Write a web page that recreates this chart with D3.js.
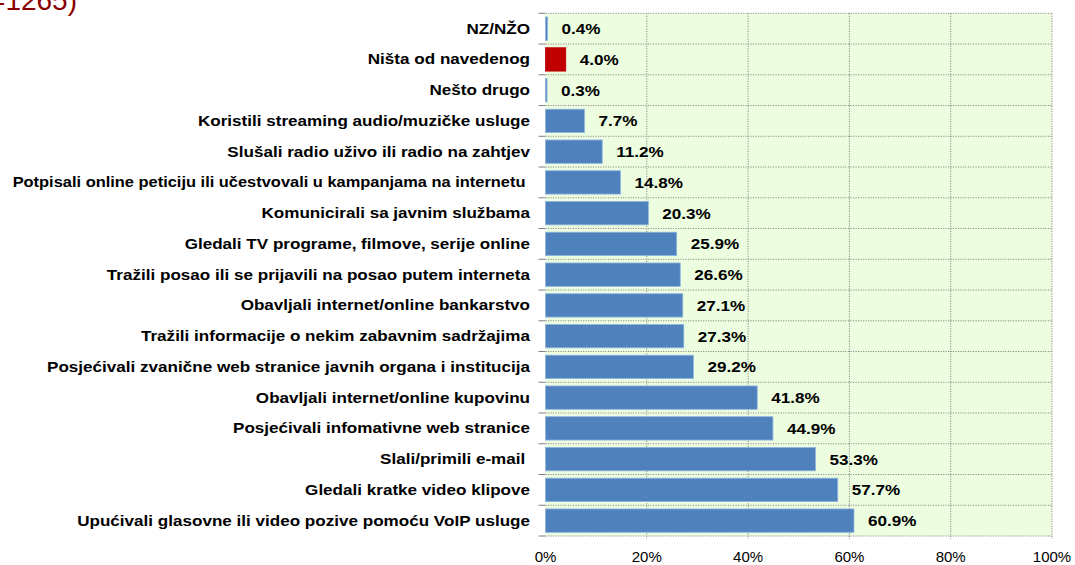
<!DOCTYPE html>
<html>
<head>
<meta charset="utf-8">
<script src="https://cdn.jsdelivr.net/npm/d3@7"></script>
<style>
  body { margin: 0; background: #fff; }
  svg text { font-family: Arial, "Liberation Sans", sans-serif; }
</style>
</head>
<body>
<div id="chart"></div>
<script>
// categories, top to bottom
var categories = [
  "NZ/NŽO",
  "Ništa od navedenog",
  "Nešto drugo",
  "Koristili streaming audio/muzičke usluge",
  "Slušali radio uživo ili radio na zahtjev",
  "Potpisali online peticiju ili učestvovali u kampanjama na internetu ",
  "Komunicirali sa javnim službama",
  "Gledali TV programe, filmove, serije online",
  "Tražili posao ili se prijavili na posao putem interneta",
  "Obavljali internet/online bankarstvo",
  "Tražili informacije o nekim zabavnim sadržajima",
  "Posjećivali zvanične web stranice javnih organa i institucija",
  "Obavljali internet/online kupovinu",
  "Posjećivali infomativne web stranice",
  "Slali/primili e-mail ",
  "Gledali kratke video klipove",
  "Upućivali glasovne ili video pozive pomoću VoIP usluge"
];

// share of respondents, %
var values = [0.4, 4.0, 0.3, 7.7, 11.2, 14.8, 20.3, 25.9, 26.6, 27.1, 27.3, 29.2, 41.8, 44.9, 53.3, 57.7, 60.9];

// the highlighted category
var highlighted = ["Ništa od navedenog"];

var xTicks = [0, 20, 40, 60, 80, 100];

var width = 1075, height = 565;
var plot = { left: 545.5, right: 1052, top: 13.3, bottom: 536 };

var svg = d3.select('#chart').append('svg')
    .attr('width', width)
    .attr('height', height);

// cut-off subtitle at the very top
svg.append('text')
    .attr('x', 77)
    .attr('y', 10)
    .attr('text-anchor', 'end')
    .attr('fill', '#8b0000')
    .style('font-size', '28px')
    .text('(N=1265)');

var x = d3.scaleLinear().domain([0, 100]).range([plot.left, plot.right]);
var y = d3.scaleBand().domain(categories).range([plot.top, plot.bottom]).paddingInner(0.24).paddingOuter(0.12);

// plot background
svg.append('rect')
    .attr('x', plot.left)
    .attr('y', plot.top)
    .attr('width', plot.right - plot.left)
    .attr('height', plot.bottom - plot.top)
    .attr('fill', '#edfddf');

// horizontal gridlines on band edges
var step = (plot.bottom - plot.top) / categories.length;
var edges = d3.range(categories.length + 1).map(function(i) { return plot.top + i * step; });

svg.append('g').selectAll('line')
    .data(edges)
    .enter().append('line')
    .attr('x1', plot.left)
    .attr('x2', plot.right)
    .attr('y1', function(d) { return d; })
    .attr('y2', function(d) { return d; })
    .attr('stroke', '#8c8c8c')
    .attr('stroke-width', 1)
    .attr('stroke-dasharray', '1.2,1.3');

// left ticks
svg.append('g').selectAll('line')
    .data(edges)
    .enter().append('line')
    .attr('x1', plot.left - 7)
    .attr('x2', plot.left)
    .attr('y1', function(d) { return d; })
    .attr('y2', function(d) { return d; })
    .attr('stroke', '#808080')
    .attr('stroke-width', 1);

// vertical gridlines
svg.append('g').selectAll('line')
    .data(xTicks.slice(1))
    .enter().append('line')
    .attr('x1', function(d) { return x(d); })
    .attr('x2', function(d) { return x(d); })
    .attr('y1', plot.top)
    .attr('y2', plot.bottom + 3)
    .attr('stroke', '#8c8c8c')
    .attr('stroke-width', 1)
    .attr('stroke-dasharray', '1.2,1.3');

// bars
svg.append('g').selectAll('rect')
    .data(categories)
    .enter().append('rect')
    .attr('x', x(0))
    .attr('y', function(d) { return y(d); })
    .attr('width', function(d, i) { return Math.max(x(values[i]) - x(0), 1.5); })
    .attr('height', y.bandwidth())
    .attr('fill', function(d) { return highlighted.indexOf(d) >= 0 ? '#c00000' : '#4f81bd'; })
    .attr('stroke', function(d) { return highlighted.indexOf(d) >= 0 ? '#c00000' : '#8eb4e3'; })
    .attr('stroke-width', 0.8);

// value labels (reference text is a bit wide, so stretch horizontally)
svg.append('g').selectAll('text')
    .data(categories)
    .enter().append('text')
    .attr('transform', function(d, i) {
      return 'translate(' + (x(values[i]) + 14) + ',' + (y(d) + y.bandwidth() / 2) + ') scale(1.14,1)';
    })
    .attr('dy', '0.36em')
    .style('font-size', '15px')
    .style('font-weight', 'bold')
    .text(function(d, i) { return values[i].toFixed(1) + '%'; });

// category labels, stretched like the reference but kept inside the page
var labelRight = 530, labelMaxWidth = 518;
svg.append('g').selectAll('text')
    .data(categories)
    .enter().append('text')
    .attr('dy', '0.36em')
    .attr('text-anchor', 'end')
    .style('font-size', '14px')
    .style('font-weight', 'bold')
    .style('white-space', 'pre')
    .text(function(d) { return d; })
    .attr('transform', function(d) {
      var w = this.getComputedTextLength();
      var sx = Math.min(1.22, labelMaxWidth / w);
      return 'translate(' + labelRight + ',' + (y(d) + y.bandwidth() / 2) + ') scale(' + sx + ',1)';
    });

// x axis tick labels
svg.append('g').selectAll('text')
    .data(xTicks)
    .enter().append('text')
    .attr('x', function(d) { return x(d); })
    .attr('y', 557)
    .attr('dy', '0.36em')
    .attr('text-anchor', 'middle')
    .style('font-size', '15px')
    .text(function(d) { return d + '%'; });
</script>
</body>
</html>
